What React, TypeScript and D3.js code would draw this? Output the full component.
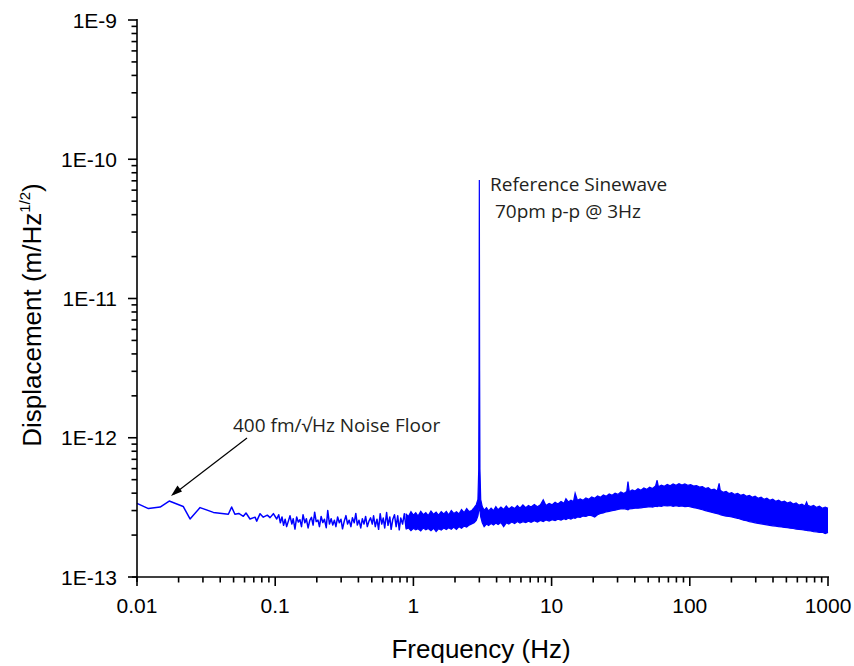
import React from "react";
import * as d3 from "d3";

// ---------- DATA (amplitudes in units of 1e-13 m/Hz^1/2) ----------
const lowFreq = [
  0.01, 0.0121, 0.0147, 0.0171, 0.0216, 0.0242, 0.0286, 0.0357, 0.0458, 0.0484,
  0.0511, 0.0545, 0.0588, 0.0615, 0.0657, 0.0715, 0.0735, 0.0777, 0.082, 0.0877,
  0.0918, 0.097, 0.1026, 0.106, 0.109, 0.112, 0.115, 0.118, 0.121, 0.125,
  0.128, 0.132, 0.135, 0.139, 0.143, 0.147, 0.151, 0.155, 0.159, 0.164,
  0.168, 0.173, 0.178, 0.183, 0.188, 0.193, 0.198, 0.204, 0.209, 0.215,
  0.221, 0.227, 0.234, 0.24, 0.247, 0.254, 0.261, 0.268, 0.275, 0.283,
  0.291, 0.299, 0.307, 0.316, 0.325, 0.334, 0.343, 0.353, 0.362, 0.373,
  0.383, 0.393, 0.404, 0.416, 0.427, 0.439, 0.451, 0.464, 0.477, 0.49, 0.504,
  0.515, 0.53, 0.545, 0.56, 0.575, 0.59, 0.605, 0.62, 0.64, 0.655,
  0.675, 0.69, 0.71, 0.73, 0.75, 0.77, 0.79, 0.81, 0.835, 0.86, 0.885, 0.91,
];
const lowAmp = [
  3.38, 3.1, 3.18, 3.51, 3.21, 2.61, 3.15, 2.91, 2.82, 3.18,
  2.82, 2.86, 2.73, 2.88, 2.61, 2.69, 2.52, 2.85, 2.69, 2.78,
  2.67, 2.85, 2.61, 2.8, 2.45, 2.7, 2.35, 2.6, 2.3, 2.55,
  2.75, 2.4, 2.62, 2.21, 2.7, 2.48, 2.58, 2.3, 2.8, 2.45,
  2.62, 2.25, 2.55, 2.68, 2.36, 2.92, 2.5, 2.56, 2.3, 2.72,
  2.46, 2.6, 2.26, 3.0, 2.4, 2.62, 2.36, 2.56, 2.3, 2.7,
  2.45, 2.6, 2.22, 2.52, 2.76, 2.4, 2.56, 2.3, 2.66, 2.45,
  2.86, 2.36, 2.56, 2.25, 2.62, 2.4, 2.72, 2.3, 2.52, 2.66, 2.4,
  2.75, 2.3, 2.6, 2.2, 2.85, 2.4, 2.65, 2.25, 2.9, 2.35,
  2.7, 2.2, 2.6, 2.8, 2.3, 2.75, 2.18, 2.65, 2.4, 2.85, 2.25, 2.7,
];

const bandFreq = [
  0.88, 0.92, 0.96, 1.0, 1.04, 1.08, 1.13, 1.18, 1.23, 1.28,
  1.34, 1.4, 1.46, 1.52, 1.59, 1.66, 1.73, 1.8, 1.88, 1.96,
  2.05, 2.14, 2.23, 2.33, 2.43, 2.53, 2.64, 2.75, 2.85, 2.93,
  2.97, 2.985, 3.0, 3.015, 3.03, 3.07, 3.15, 3.25, 3.38, 3.5,
  3.65, 3.8, 3.95, 4.1, 4.3, 4.5, 4.7, 4.9, 5.15, 5.4,
  5.65, 5.9, 6.2, 6.5, 6.8, 7.1, 7.5, 7.9, 8.3, 8.7,
  9.1, 9.6, 10.1, 10.6, 11.1, 11.7, 12.3, 12.7, 13.2, 13.8,
  14.4, 14.8, 15.4, 16.1, 16.9, 17.7, 18.6, 19.5, 20.5, 21.5,
  22.6, 23.7, 24.9, 26.1, 27.4, 28.8, 30.2, 31.7, 33.3, 35.0,
  35.7, 36.5, 38.3, 40.2, 42.2, 44.3, 46.5, 48.8, 51.2, 53.8,
  56.5, 58.0, 59.3, 62.3, 65.4, 68.7, 72.1, 75.7, 79.5, 83.5,
  87.7, 92.1, 96.7, 101.5, 106.6, 111.9, 117.5, 123.4, 129.6, 136,
  143, 150, 158, 163, 166, 174, 183, 192, 201, 211,
  222, 233, 245, 257, 270, 283, 297, 312, 328, 344,
  361, 379, 398, 418, 439, 461, 484, 508, 533, 560,
  588, 617, 648, 680, 700, 714, 750, 787, 826, 867,
  910, 955, 1000,
];
const bandUpper = [
  2.85, 2.72, 2.95, 2.78, 2.9, 2.74, 2.96, 2.8, 2.9, 2.76,
  2.98, 2.82, 2.92, 2.78, 2.95, 2.84, 2.96, 2.8, 3.0, 2.86,
  2.94, 2.84, 3.05, 2.9, 3.1, 2.95, 3.0, 3.15, 3.3, 3.6,
  6.0, 30, 710, 30, 6.0, 3.6, 3.2, 3.02, 3.15, 2.98,
  3.12, 3.0, 3.2, 3.04, 3.18, 3.06, 3.24, 3.08, 3.2, 3.1,
  3.26, 3.12, 3.3, 3.15, 3.26, 3.18, 3.32, 3.2, 3.3, 3.58,
  3.26, 3.38, 3.3, 3.44, 3.34, 3.48, 3.38, 3.65, 3.46, 3.56,
  3.48, 4.0, 3.55, 3.64, 3.56, 3.7, 3.62, 3.76, 3.68, 3.82,
  3.74, 3.88, 3.8, 3.95, 3.86, 4.0, 3.92, 4.08, 3.98, 4.12,
  4.85, 4.1, 4.22, 4.14, 4.3, 4.2, 4.36, 4.26, 4.42, 4.32,
  4.5, 4.95, 4.44, 4.56, 4.48, 4.62, 4.52, 4.66, 4.56, 4.68,
  4.58, 4.66, 4.56, 4.6, 4.5, 4.54, 4.42, 4.46, 4.32, 4.38,
  4.22, 4.28, 4.14, 4.7, 4.2, 4.06, 4.12, 3.98, 4.04, 3.92,
  3.98, 3.86, 3.92, 3.8, 3.86, 3.74, 3.8, 3.68, 3.74, 3.62,
  3.68, 3.56, 3.62, 3.5, 3.56, 3.45, 3.5, 3.4, 3.46, 3.34,
  3.4, 3.28, 3.34, 3.24, 3.45, 3.28, 3.2, 3.26, 3.16, 3.22,
  3.12, 3.18, 3.12,
];
const bandLower = [
  2.2, 2.25, 2.15, 2.24, 2.18, 2.22, 2.14, 2.25, 2.18, 2.23,
  2.15, 2.24, 2.12, 2.22, 2.17, 2.25, 2.19, 2.26, 2.2, 2.28,
  2.2, 2.3, 2.24, 2.32, 2.28, 2.36, 2.4, 2.45, 2.55, 2.75,
  3.0, 3.2, 3.3, 3.2, 3.0, 2.7, 2.45, 2.3, 2.4, 2.34,
  2.42, 2.36, 2.44, 2.38, 2.46, 2.3, 2.45, 2.4, 2.48, 2.42,
  2.5, 2.44, 2.5, 2.46, 2.52, 2.47, 2.54, 2.48, 2.55, 2.5,
  2.57, 2.52, 2.58, 2.54, 2.6, 2.56, 2.62, 2.58, 2.64, 2.6,
  2.66, 2.64, 2.7, 2.68, 2.74, 2.72, 2.78, 2.76, 2.7, 2.8,
  2.86, 2.88, 2.94, 2.96, 3.0, 3.02, 3.06, 3.08, 3.1, 3.06,
  3.04, 3.08, 3.1, 3.12, 3.12, 3.14, 3.16, 3.18, 3.2, 3.18,
  3.22, 3.2, 3.24, 3.22, 3.26, 3.24, 3.26, 3.22, 3.25, 3.22,
  3.24, 3.2, 3.22, 3.18, 3.15, 3.12, 3.08, 3.04, 3.0, 2.96,
  2.92, 2.88, 2.85, 2.83, 2.8, 2.77, 2.74, 2.72, 2.7, 2.67,
  2.64, 2.6, 2.56, 2.54, 2.5, 2.48, 2.45, 2.43, 2.41, 2.39,
  2.37, 2.35, 2.33, 2.32, 2.3, 2.29, 2.27, 2.26, 2.24, 2.23,
  2.21, 2.2, 2.19, 2.17, 2.16, 2.15, 2.14, 2.12, 2.11, 2.09,
  2.1, 2.05, 2.09,
];

const xTickValues = [0.01, 0.1, 1, 10, 100, 1000];
const xTickLabels = ["0.01", "0.1", "1", "10", "100", "1000"];
const yTickValues = [1e-13, 1e-12, 1e-11, 1e-10, 1e-9];
const yTickLabels = ["1E-13", "1E-12", "1E-11", "1E-10", "1E-9"];

const UNIT = 1e-13;

export default function App() {
  const W = 854;
  const H = 666;
  const x = d3.scaleLog().domain([0.01, 1000]).range([137, 828]);
  const y = d3.scaleLog().domain([1e-13, 1e-9]).range([577, 20]);

  const lowPts = lowFreq.map((f, i) => [f, lowAmp[i] * UNIT] as [number, number]);
  const line = d3
    .line<[number, number]>()
    .x((d) => x(d[0]))
    .y((d) => y(d[1]));

  type B = { f: number; u: number; l: number };
  const bandPts: B[] = bandFreq.map((f, i) => ({ f, u: bandUpper[i] * UNIT, l: bandLower[i] * UNIT }));
  const area = d3
    .area<B>()
    .x((d) => x(d.f))
    .y0((d) => y(d.l))
    .y1((d) => y(d.u));
  const upperLine = d3
    .line<B>()
    .x((d) => x(d.f))
    .y((d) => y(d.u));
  const lowerLine = d3
    .line<B>()
    .x((d) => x(d.f))
    .y((d) => y(d.l));

  const xMinor: number[] = [];
  for (let e = -2; e < 3; e++) for (let k = 2; k <= 9; k++) xMinor.push(k * Math.pow(10, e));
  const yMinor: number[] = [];
  for (let e = -13; e < -9; e++) for (let k = 2; k <= 9; k++) yMinor.push(k * Math.pow(10, e));

  const blue = "#0000ff";
  const axisFont = "'Liberation Sans', Arial, sans-serif";
  const annFont = "'Open Sans', 'Noto Sans', sans-serif";

  return (
    <svg width={W} height={H} style={{ position: "absolute", left: 0, top: 0 }}>
      <rect width={W} height={H} fill="#fff" />
      {/* data */}
      <path d={area(bandPts) || ""} fill={blue} stroke="none" />
      <path d={upperLine(bandPts) || ""} fill="none" stroke={blue} strokeWidth={1.2} />
      <path d={lowerLine(bandPts) || ""} fill="none" stroke={blue} strokeWidth={1.2} />
      <path d={line(lowPts) || ""} fill="none" stroke={blue} strokeWidth={1.5} strokeLinejoin="round" />

      {/* axes */}
      <g stroke="#000" strokeWidth={1.6}>
        <line x1={137} y1={19} x2={137} y2={582} />
        <line x1={132} y1={577} x2={829} y2={577} />
        {xTickValues.map((v) => (
          <line key={"xM" + v} x1={x(v)} x2={x(v)} y1={577} y2={586} />
        ))}
        {xMinor.map((v) => (
          <line key={"xm" + v} x1={x(v)} x2={x(v)} y1={577} y2={582.5} />
        ))}
        {yTickValues.map((v) => (
          <line key={"yM" + v} x1={128} x2={137} y1={y(v)} y2={y(v)} />
        ))}
        {yMinor.map((v) => (
          <line key={"ym" + v} x1={131.5} x2={137} y1={y(v)} y2={y(v)} />
        ))}
      </g>
      <g fontFamily={axisFont} fontSize={21} fill="#000">
        {xTickValues.map((v, i) => (
          <text key={"xl" + v} x={x(v)} y={613} textAnchor="middle">
            {xTickLabels[i]}
          </text>
        ))}
        {yTickValues.map((v, i) => (
          <text key={"yl" + v} x={117} y={y(v) + 7.5} textAnchor="end">
            {yTickLabels[i]}
          </text>
        ))}
      </g>
      <text x={481} y={658} textAnchor="middle" fontFamily={axisFont} fontSize={26} fill="#000">
        Frequency (Hz)
      </text>
      <text
        transform="translate(41,315) rotate(-90)"
        textAnchor="middle"
        fontFamily={axisFont}
        fontSize={26}
        fill="#000"
      >
        Displacement (m/Hz
        <tspan fontSize={15} dy={-11}>
          1/2
        </tspan>
        <tspan dy={11}>)</tspan>
      </text>

      {/* annotations */}
      <g fontFamily={annFont} fontSize={19} fill="#231f20">
        <text x={490} y={191}>Reference Sinewave</text>
        <text x={495} y={218}>70pm p-p @ 3Hz</text>
        <text x={233} y={432}>400 fm/√Hz Noise Floor</text>
      </g>
      <line x1={247} y1={438} x2={174} y2={494} stroke="#000" strokeWidth={1.2} />
      <path d="M171,496 L177.5,485.5 L182,491.5 z" fill="#000" />
    </svg>
  );
}
